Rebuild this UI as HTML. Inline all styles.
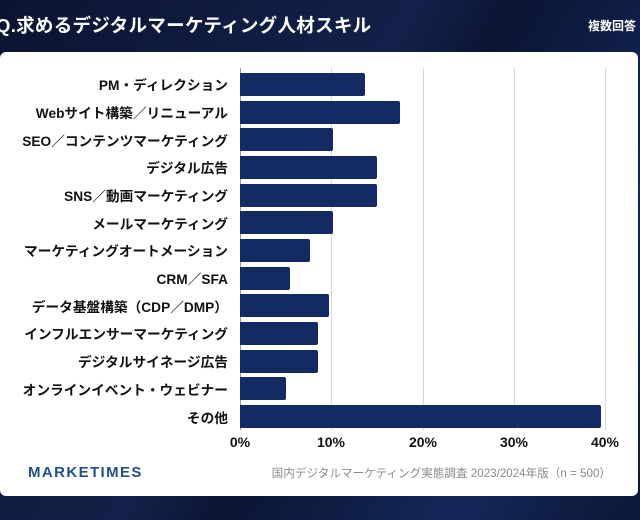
<!DOCTYPE html>
<html><head><meta charset="utf-8"><style>
body{margin:0;width:640px;height:520px;overflow:hidden;background:#0e1a3a;font-family:"Liberation Sans","Noto Sans CJK JP",sans-serif;position:relative}
.bg{position:absolute;inset:0;background:linear-gradient(120deg,#0b1431 0%,#13214a 45%,#0b1533 55%,#15275a 80%,#0c1736 100%)}
.title{position:absolute;left:-4px;top:12px;color:#fff;font-size:18.5px;font-weight:bold;letter-spacing:0.3px}
.multi{position:absolute;right:4px;top:17px;color:#fff;font-size:12px;font-weight:bold}
.card{position:absolute;left:0;top:52px;width:638px;height:444px;background:#fff;border-radius:6px}
.lab{position:absolute;right:412px;font-size:13.7px;font-weight:bold;color:#111;white-space:nowrap;transform:translateY(-50%)}
.bar{position:absolute;left:240px;height:23px;background:#142a63;border-radius:0 2px 2px 0}
.g{position:absolute;top:68px;height:362px;width:1px;background:#d8d8d8}
.t{position:absolute;top:434px;font-size:14px;font-weight:bold;color:#111;transform:translateX(-50%)}
.logo{position:absolute;left:28px;top:464px;font-size:15px;font-weight:bold;color:#1f4f8f;letter-spacing:1.4px}
.src{position:absolute;right:29px;top:465px;font-size:11.6px;color:#8a8a8a}
</style></head><body><div class="bg"></div>
<div class="title">Q.求めるデジタルマーケティング人材スキル</div>
<div class="multi">複数回答</div>
<div class="card"></div>
<div class="g" style="left:240px;background:#999"></div><div class="g" style="left:331px"></div><div class="g" style="left:423px"></div><div class="g" style="left:514px"></div><div class="g" style="left:605px"></div>
<div class="lab" style="top:84px">PM・ディレクション</div><div class="bar" style="top:73px;width:125px"></div>
<div class="lab" style="top:112px">Webサイト構築／リニューアル</div><div class="bar" style="top:101px;width:160px"></div>
<div class="lab" style="top:140px">SEO／コンテンツマーケティング</div><div class="bar" style="top:128px;width:93px"></div>
<div class="lab" style="top:167px">デジタル広告</div><div class="bar" style="top:156px;width:137px"></div>
<div class="lab" style="top:195px">SNS／動画マーケティング</div><div class="bar" style="top:184px;width:137px"></div>
<div class="lab" style="top:223px">メールマーケティング</div><div class="bar" style="top:211px;width:93px"></div>
<div class="lab" style="top:250px">マーケティングオートメーション</div><div class="bar" style="top:239px;width:70px"></div>
<div class="lab" style="top:278px">CRM／SFA</div><div class="bar" style="top:267px;width:50px"></div>
<div class="lab" style="top:306px">データ基盤構築（CDP／DMP）</div><div class="bar" style="top:294px;width:89px"></div>
<div class="lab" style="top:333px">インフルエンサーマーケティング</div><div class="bar" style="top:322px;width:78px"></div>
<div class="lab" style="top:361px">デジタルサイネージ広告</div><div class="bar" style="top:350px;width:78px"></div>
<div class="lab" style="top:389px">オンラインイベント・ウェビナー</div><div class="bar" style="top:377px;width:46px"></div>
<div class="lab" style="top:417px">その他</div><div class="bar" style="top:405px;width:361px"></div>
<div class="t" style="left:240px">0%</div><div class="t" style="left:331px">10%</div><div class="t" style="left:423px">20%</div><div class="t" style="left:514px">30%</div><div class="t" style="left:605px">40%</div>
<div class="logo">MARKETIMES</div>
<div class="src">国内デジタルマーケティング実態調査 2023/2024年版（n = 500）</div>
</body></html>
